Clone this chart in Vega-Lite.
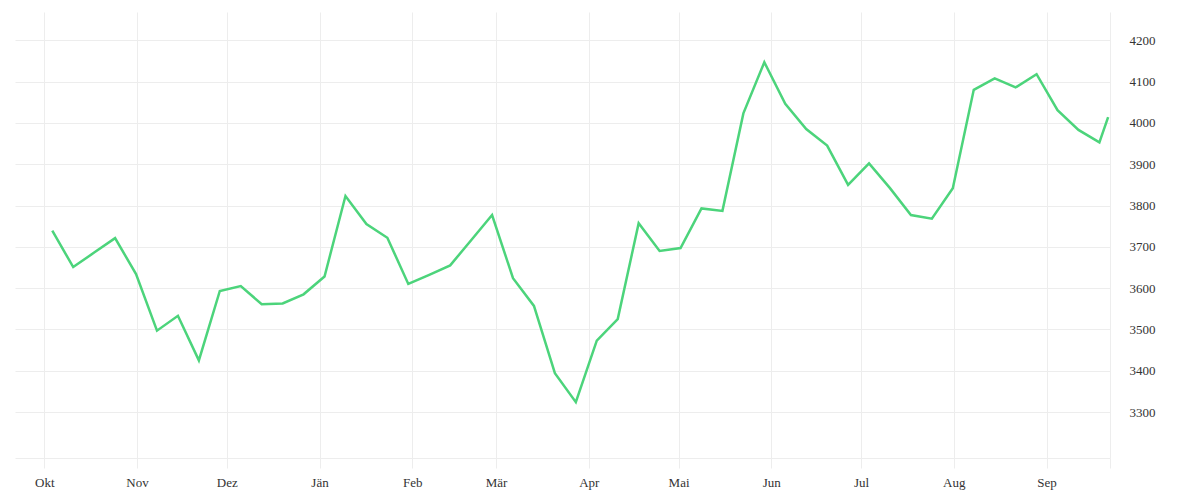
{
  "$schema": "https://vega.github.io/schema/vega-lite/v6.json",
  "width": 1095,
  "height": 446,
  "autosize": {"type": "none"},
  "padding": {"left": 15, "top": 12, "right": 90, "bottom": 42},
  "background": "white",
  "config": {
    "view": {"stroke": null},
    "font": "Liberation Serif"
  },
  "data": {
    "values": [
      {"date": "2020-10-03T16:00:00Z", "value": 3739},
      {"date": "2020-10-10T16:00:00Z", "value": 3651},
      {"date": "2020-10-17T16:00:00Z", "value": 3686},
      {"date": "2020-10-24T16:00:00Z", "value": 3721},
      {"date": "2020-10-31T16:00:00Z", "value": 3634},
      {"date": "2020-11-07T16:00:00Z", "value": 3497},
      {"date": "2020-11-14T16:00:00Z", "value": 3533},
      {"date": "2020-11-21T16:00:00Z", "value": 3425},
      {"date": "2020-11-28T16:00:00Z", "value": 3593},
      {"date": "2020-12-05T16:00:00Z", "value": 3605},
      {"date": "2020-12-12T16:00:00Z", "value": 3561},
      {"date": "2020-12-19T16:00:00Z", "value": 3563},
      {"date": "2020-12-26T16:00:00Z", "value": 3585},
      {"date": "2021-01-02T16:00:00Z", "value": 3628},
      {"date": "2021-01-09T16:00:00Z", "value": 3823},
      {"date": "2021-01-16T16:00:00Z", "value": 3755},
      {"date": "2021-01-23T16:00:00Z", "value": 3722},
      {"date": "2021-01-30T16:00:00Z", "value": 3610},
      {"date": "2021-02-06T16:00:00Z", "value": 3632},
      {"date": "2021-02-13T16:00:00Z", "value": 3655},
      {"date": "2021-02-20T16:00:00Z", "value": 3716},
      {"date": "2021-02-27T16:00:00Z", "value": 3777},
      {"date": "2021-03-06T16:00:00Z", "value": 3624},
      {"date": "2021-03-13T16:00:00Z", "value": 3557},
      {"date": "2021-03-20T16:00:00Z", "value": 3394},
      {"date": "2021-03-27T16:00:00Z", "value": 3324},
      {"date": "2021-04-03T16:00:00Z", "value": 3473},
      {"date": "2021-04-10T16:00:00Z", "value": 3525},
      {"date": "2021-04-17T16:00:00Z", "value": 3757},
      {"date": "2021-04-24T16:00:00Z", "value": 3690},
      {"date": "2021-05-01T16:00:00Z", "value": 3697},
      {"date": "2021-05-08T16:00:00Z", "value": 3793},
      {"date": "2021-05-15T16:00:00Z", "value": 3787},
      {"date": "2021-05-22T16:00:00Z", "value": 4023},
      {"date": "2021-05-29T16:00:00Z", "value": 4147},
      {"date": "2021-06-05T16:00:00Z", "value": 4046},
      {"date": "2021-06-12T16:00:00Z", "value": 3985},
      {"date": "2021-06-19T16:00:00Z", "value": 3945},
      {"date": "2021-06-26T16:00:00Z", "value": 3850},
      {"date": "2021-07-03T16:00:00Z", "value": 3902},
      {"date": "2021-07-10T16:00:00Z", "value": 3842},
      {"date": "2021-07-17T16:00:00Z", "value": 3777},
      {"date": "2021-07-24T16:00:00Z", "value": 3768},
      {"date": "2021-07-31T16:00:00Z", "value": 3842},
      {"date": "2021-08-07T16:00:00Z", "value": 4080},
      {"date": "2021-08-14T16:00:00Z", "value": 4108},
      {"date": "2021-08-21T16:00:00Z", "value": 4086},
      {"date": "2021-08-28T16:00:00Z", "value": 4118},
      {"date": "2021-09-04T16:00:00Z", "value": 4031},
      {"date": "2021-09-11T16:00:00Z", "value": 3983},
      {"date": "2021-09-18T16:00:00Z", "value": 3953},
      {"date": "2021-09-21T14:00:00Z", "value": 4014}
    ]
  },
  "mark": {"type": "line", "color": "#4cd47b", "strokeWidth": 2.5},
  "encoding": {
    "x": {
      "field": "date",
      "type": "temporal",
      "title": null,
      "scale": {
        "type": "utc",
        "domain": [
          {"year": 2020, "month": 9, "date": 21, "hours": 5, "utc": true},
          {"year": 2021, "month": 9, "date": 22, "hours": 5, "utc": true}
        ]
      },
      "axis": {
        "values": [
          {"year": 2020, "month": 10, "date": 1, "utc": true},
          {"year": 2020, "month": 11, "date": 1, "utc": true},
          {"year": 2020, "month": 12, "date": 1, "utc": true},
          {"year": 2021, "month": 1, "date": 1, "utc": true},
          {"year": 2021, "month": 2, "date": 1, "utc": true},
          {"year": 2021, "month": 3, "date": 1, "utc": true},
          {"year": 2021, "month": 4, "date": 1, "utc": true},
          {"year": 2021, "month": 5, "date": 1, "utc": true},
          {"year": 2021, "month": 6, "date": 1, "utc": true},
          {"year": 2021, "month": 7, "date": 1, "utc": true},
          {"year": 2021, "month": 8, "date": 1, "utc": true},
          {"year": 2021, "month": 9, "date": 1, "utc": true},
          {"year": 2021, "month": 9, "date": 22, "hours": 5, "utc": true}
        ],
        "labelExpr": "utcdate(datum.value) == 1 ? ['Jän','Feb','Mär','Apr','Mai','Jun','Jul','Aug','Sep','Okt','Nov','Dez'][utcmonth(datum.value)] : ''",
        "grid": true,
        "gridColor": "#ededed",
        "domainColor": "#ededed",
        "tickColor": "#ededed",
        "tickSize": 10,
        "labelPadding": 8,
        "labelFontSize": 13,
        "labelColor": "#333333",
        "labelFlush": false,
        "labelOverlap": false
      }
    },
    "y": {
      "field": "value",
      "type": "quantitative",
      "title": null,
      "scale": {"domain": [3188.7, 4268.5], "nice": false, "zero": false},
      "axis": {
        "orient": "right",
        "values": [3300, 3400, 3500, 3600, 3700, 3800, 3900, 4000, 4100, 4200],
        "format": "d",
        "grid": true,
        "gridColor": "#ededed",
        "domain": false,
        "ticks": false,
        "labelAlign": "right",
        "labelBaseline": "middle",
        "labelPadding": 45,
        "labelFontSize": 13,
        "labelColor": "#333333"
      }
    }
  }
}
